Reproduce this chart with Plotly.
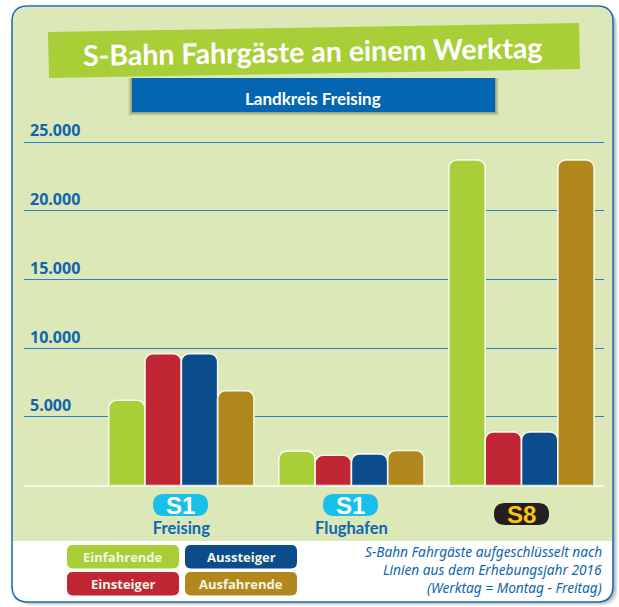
import plotly.graph_objects as go

W, H = 619, 607
lines = ["S1 Freising", "S1 Flughafen", "S8"]
tick_labels = ["Freising", "Flughafen", ""]
series_names = ["Einfahrende", "Einsteiger", "Aussteiger", "Ausfahrende"]
einfahrende = [6200, 2500, 23700]
einsteiger = [9600, 2200, 3900]
aussteiger = [9600, 2300, 3900]
ausfahrende = [6900, 2550, 23700]
y_ticks = [5000, 10000, 15000, 20000, 25000]
y_labels = ["5.000", "10.000", "15.000", "20.000", "25.000"]
title = "S-Bahn Fahrgäste an einem Werktag"
subtitle = "Landkreis Freising"
note = ["S-Bahn Fahrgäste aufgeschlüsselt nach", "Linien aus dem Erhebungsjahr 2016", "(Werktag = Montag - Freitag)"]

GREEN, RED, BLUE, GOLD = "#a8cf38", "#c12635", "#0a4c8c", "#b0881e"
colors = [GREEN, RED, BLUE, GOLD]
LINE = "#1a6fb5"
TEXTBLUE = "#0f65ae"
NARROW = "Lato"
SANS = "Open Sans"
Y_MAX = 27000

def px(x): return x / W
def py(y): return 1 - y / H

def P(*pts):
    return "M" + " L".join(f"{px(x):.5f},{py(y):.5f}" for x, y in pts) + " Z"

def rr(x0, y0, x1, y1, r, top=True, bottom=True):
    rx, ry = r / W, r / H
    a, b, c, d = px(x0), px(x1), py(y0), py(y1)
    s = f"M{a:.5f},{d + (ry if bottom else 0):.5f} L{a:.5f},{c - (ry if top else 0):.5f} "
    if top:
        s += f"Q{a:.5f},{c:.5f} {a + rx:.5f},{c:.5f} L{b - rx:.5f},{c:.5f} Q{b:.5f},{c:.5f} {b:.5f},{c - ry:.5f} "
    else:
        s += f"L{a:.5f},{c:.5f} L{b:.5f},{c:.5f} "
    if bottom:
        s += f"L{b:.5f},{d + ry:.5f} Q{b:.5f},{d:.5f} {b - rx:.5f},{d:.5f} L{a + rx:.5f},{d:.5f} Q{a:.5f},{d:.5f} {a:.5f},{d + ry:.5f} Z"
    else:
        s += f"L{b:.5f},{d:.5f} L{a:.5f},{d:.5f} Z"
    return s

shapes, annots = [], []

def shape(path, fill, line=None, lw=0, layer="below", op=1):
    shapes.append(dict(type="path", xref="paper", yref="paper", path=path, fillcolor=fill,
                       line=dict(color=line or fill, width=lw), layer=layer, opacity=op))

def text(x, y, t, size, color, font=SANS, anchor="center", angle=0):
    annots.append(dict(xref="paper", yref="paper", x=px(x), y=py(y), text=t, showarrow=False,
                       xanchor=anchor, yanchor="middle", textangle=angle,
                       font=dict(size=size, color=color, family=font)))

# card with soft shadow
for d, op in [(5, 0.07), (4, 0.1), (3, 0.14), (2, 0.18)]:
    shape(rr(12 + d, 6 + d, 613 + d, 602 + d - 1, 16), "#555555", op=op)
shape(rr(12, 6, 613, 602, 16), "white", LINE, 1.6)
shape(rr(13, 7, 612, 541, 15, bottom=False), "#dce8b8")

# title banner
shape(P((48, 32), (579, 23), (580, 69), (49, 78)), GREEN)
for d, op in [(4, 0.08), (3, 0.12), (2, 0.16), (1, 0.2)]:
    shape(P((132 - d, 78), (495 + d, 78), (495 + d, 112 + d), (132 - d, 112 + d)), "#555533", op=op)
shape(P((132, 78), (495, 78), (495, 112), (132, 112)), "#0466b3")
text(312, 51, f"<b>{title}</b>", 28.5, "white", NARROW, angle=-1)
text(313, 98, f"<b>{subtitle}</b>", 17, "white", NARROW)

# line badges
for x0, y0, label, bg, fg in [(153, 494, "S1", "#18bfea", "white"), (323, 494, "S1", "#18bfea", "white"), (494, 503, "S8", "#231f20", "#fdc30e")]:
    shape(rr(x0, y0, x0 + 55, y0 + 22, 11), bg)
    text(x0 + 27.5, y0 + 11, f"<b>{label}</b>", 24, fg, "Liberation Sans")

# legend pills
pill_pos = [(67, 545), (67, 572), (185, 545), (185, 572)]
for (x0, y0), name, c in zip(pill_pos, series_names, colors):
    shape(rr(x0, y0, x0 + 112, y0 + 23.5, 6), c)
    text(x0 + 56, y0 + 12, f"<b>{name}</b>", 13, "#f4f6e4")

# note
for y, t in zip([551.5, 569.5, 587.5], note):
    text(604, y, f"<i>{t}</i>", 13.7, TEXTBLUE, "Noto Sans", anchor="right")

fig = go.Figure()
for name, vals, c in zip(series_names, [einfahrende, einsteiger, aussteiger, ausfahrende], colors):
    fig.add_bar(name=name, x=lines, y=vals, marker=dict(color=c, line=dict(color="#f6f8ea", width=1.6)))

fig.update_layout(
    width=W, height=H, margin=dict(l=0, r=0, t=0, b=0), paper_bgcolor="white", plot_bgcolor="rgba(0,0,0,0)",
    barmode="group", bargap=0.146, bargroupgap=0.0, barcornerradius=8, showlegend=False,
    shapes=shapes, annotations=annots,
    xaxis=dict(domain=[px(24), px(604)], range=[-0.925, 2.485], anchor="y", type="category",
               categoryorder="array", categoryarray=lines, tickmode="array", tickvals=lines,
               ticktext=[f"<b>{t}</b>" for t in tick_labels],
               tickfont=dict(size=16.5, color=TEXTBLUE, family=NARROW), showgrid=False,
               ticks="", ticklabelstandoff=31, showline=False, zeroline=False),
    yaxis=dict(domain=[py(485.5), py(485.5 - Y_MAX * 343.5 / 25000)], range=[0, Y_MAX], anchor="x", tickmode="array",
               tickvals=y_ticks, ticktext=[f"<b>{t}</b>" for t in y_labels], ticklabelposition="inside top",
               ticklabelstandoff=3,
               tickfont=dict(size=16, color=TEXTBLUE, family=SANS), gridcolor="#2585c9", gridwidth=1.2,
               zeroline=True, zerolinecolor="#f6f8ea", zerolinewidth=1.5, showline=False, ticks=""),
)
fig.write_html("out.html", config=dict(displayModeBar=False),
               post_script="document.body.style.margin='0';document.body.style.overflow='hidden';")
